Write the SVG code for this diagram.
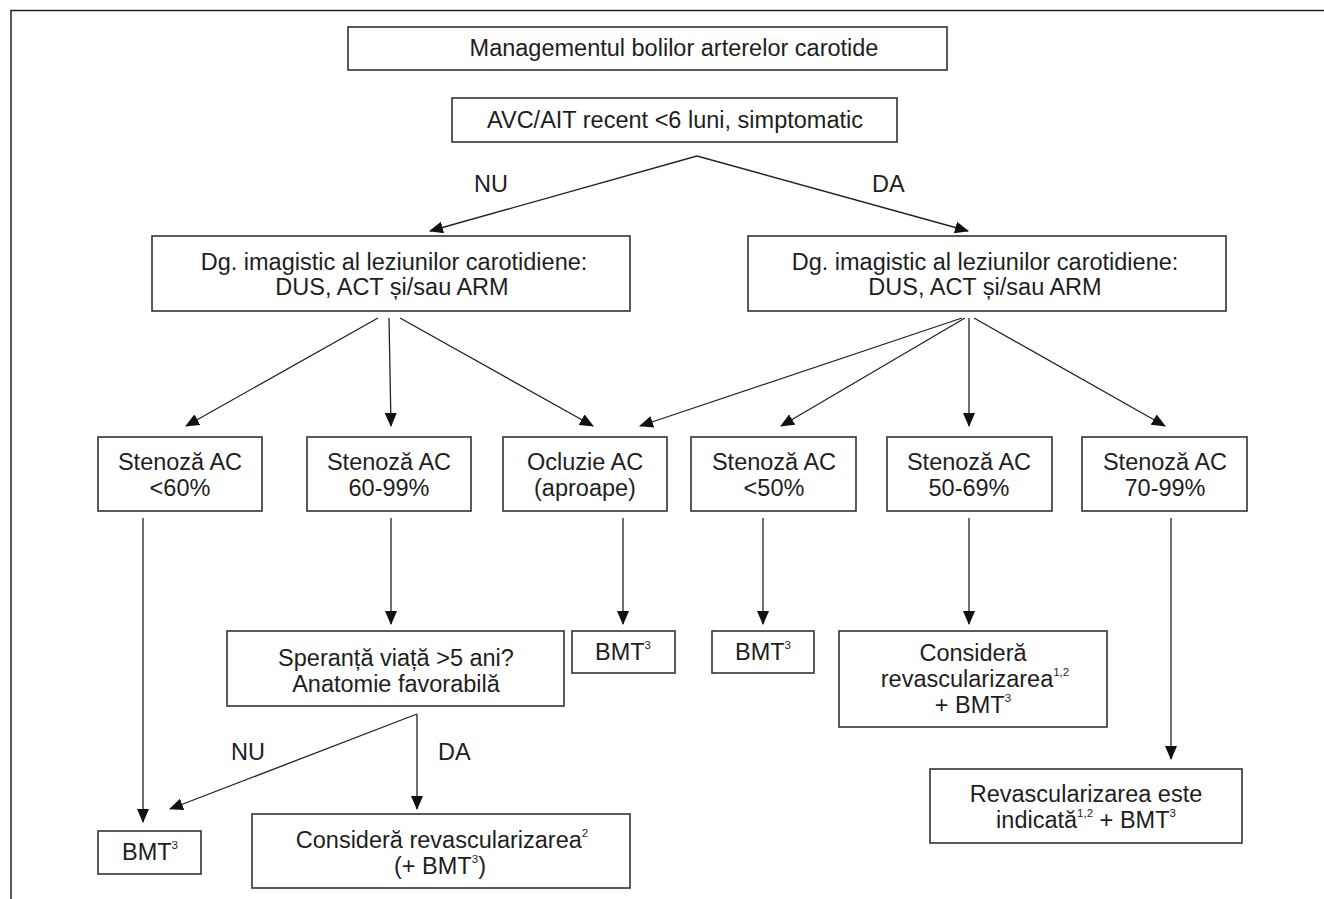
<svg xmlns="http://www.w3.org/2000/svg" width="1324" height="899" viewBox="0 0 1324 899">
<defs>
<style>
.box{fill:#fff;stroke:#333;stroke-width:1.6}
.t{font-family:"Liberation Sans",Arial,sans-serif;font-size:23.5px;fill:#1e1e1e;text-anchor:middle}
.lbl{font-family:"Liberation Sans",Arial,sans-serif;font-size:23.5px;fill:#1e1e1e}
.c line{stroke:#222;stroke-width:1.3;marker-end:url(#ah)}
.sup{font-size:11.5px}
</style>
<marker id="ah" markerUnits="userSpaceOnUse" markerWidth="14" markerHeight="12" refX="13" refY="6" orient="auto" viewBox="0 0 14 12">
<path d="M0,0 L14,6 L0,12 z" fill="#111"/>
</marker>
</defs>
<rect width="1324" height="899" fill="#fff"/>
<path d="M11,899 V10.5 H1324" fill="none" stroke="#222" stroke-width="1.5"/>

<g id="n-title"><rect class="box" x="348" y="27" width="599" height="43"/><text class="t" x="674" y="56">Managementul bolilor arterelor carotide</text></g>
<g id="n-avc"><rect class="box" x="452" y="98" width="445" height="44"/><text class="t" x="675" y="128">AVC/AIT recent &lt;6 luni, simptomatic</text></g>
<g id="n-dg1"><rect class="box" x="152" y="236" width="478" height="75"/><text class="t" x="394" y="270">Dg. imagistic al leziunilor carotidiene:</text><text class="t" x="392" y="295">DUS, ACT și/sau ARM</text></g>
<g id="n-dg2"><rect class="box" x="748" y="236" width="478" height="75"/><text class="t" x="985" y="270">Dg. imagistic al leziunilor carotidiene:</text><text class="t" x="985" y="295">DUS, ACT și/sau ARM</text></g>

<g id="n-s60"><rect class="box" x="98" y="437" width="164" height="74"/><text class="t" x="180" y="470">Stenoză AC</text><text class="t" x="180" y="496">&lt;60%</text></g>
<g id="n-s6099"><rect class="box" x="307" y="437" width="164" height="74"/><text class="t" x="389" y="470">Stenoză AC</text><text class="t" x="389" y="496">60-99%</text></g>
<g id="n-ocl"><rect class="box" x="503" y="437" width="164" height="74"/><text class="t" x="585" y="470">Ocluzie AC</text><text class="t" x="585" y="496">(aproape)</text></g>
<g id="n-s50"><rect class="box" x="691" y="437" width="165" height="74"/><text class="t" x="774" y="470">Stenoză AC</text><text class="t" x="774" y="496">&lt;50%</text></g>
<g id="n-s5069"><rect class="box" x="887" y="437" width="165" height="74"/><text class="t" x="969" y="470">Stenoză AC</text><text class="t" x="969" y="496">50-69%</text></g>
<g id="n-s7099"><rect class="box" x="1082" y="437" width="165" height="74"/><text class="t" x="1165" y="470">Stenoză AC</text><text class="t" x="1165" y="496">70-99%</text></g>

<g id="n-sper"><rect class="box" x="227" y="631" width="337" height="75"/><text class="t" x="396" y="666">Speranță viață &gt;5 ani?</text><text class="t" x="396" y="692">Anatomie favorabilă</text></g>
<g id="n-bmt1"><rect class="box" x="572" y="631" width="103" height="42"/><text class="t" x="623" y="660">BMT<tspan class="sup" dy="-11">3</tspan></text></g>
<g id="n-bmt2"><rect class="box" x="712" y="631" width="102" height="42"/><text class="t" x="763" y="660">BMT<tspan class="sup" dy="-11">3</tspan></text></g>
<g id="n-cons12"><rect class="box" x="839" y="631" width="268" height="96"/><text class="t" x="973" y="661">Consideră</text><text class="t" x="975" y="687">revascularizarea<tspan class="sup" dy="-11">1,2</tspan></text><text class="t" x="973" y="713">+ BMT<tspan class="sup" dy="-11">3</tspan></text></g>
<g id="n-revind"><rect class="box" x="930" y="769" width="312" height="74"/><text class="t" x="1086" y="802">Revascularizarea este</text><text class="t" x="1086" y="828">indicată<tspan class="sup" dy="-11">1,2</tspan><tspan dy="11"> + BMT</tspan><tspan class="sup" dy="-11">3</tspan></text></g>
<g id="n-bmt3"><rect class="box" x="98" y="831" width="103" height="43"/><text class="t" x="150" y="860">BMT<tspan class="sup" dy="-11">3</tspan></text></g>
<g id="n-cons2"><rect class="box" x="252" y="814" width="378" height="74"/><text class="t" x="442" y="848">Consideră revascularizarea<tspan class="sup" dy="-11">2</tspan></text><text class="t" x="440" y="874">(+ BMT<tspan class="sup" dy="-11">3</tspan><tspan dy="11">)</tspan></text></g>

<g id="connectors" class="c">
<line x1="697" y1="156" x2="430" y2="231"/>
<line x1="697" y1="156" x2="968" y2="231"/>
<line x1="378" y1="318" x2="186" y2="426"/>
<line x1="389" y1="318" x2="391" y2="426"/>
<line x1="400" y1="318" x2="593" y2="426"/>
<line x1="962" y1="318" x2="640" y2="426"/>
<line x1="965" y1="318" x2="781" y2="426"/>
<line x1="969" y1="318" x2="969" y2="426"/>
<line x1="974" y1="318" x2="1165" y2="426"/>
<line x1="143" y1="518" x2="143" y2="822"/>
<line x1="391" y1="518" x2="391" y2="624"/>
<line x1="623" y1="518" x2="623" y2="624"/>
<line x1="763" y1="518" x2="763" y2="624"/>
<line x1="969" y1="518" x2="969" y2="624"/>
<line x1="1171" y1="518" x2="1171" y2="759"/>
<line x1="417" y1="714" x2="170" y2="809"/>
<line x1="417" y1="714" x2="417" y2="809"/>
</g>
<g id="labels">
<text class="lbl" x="474" y="192">NU</text>
<text class="lbl" x="872" y="192">DA</text>
<text class="lbl" x="231" y="760">NU</text>
<text class="lbl" x="438" y="760">DA</text>
</g>
</svg>
